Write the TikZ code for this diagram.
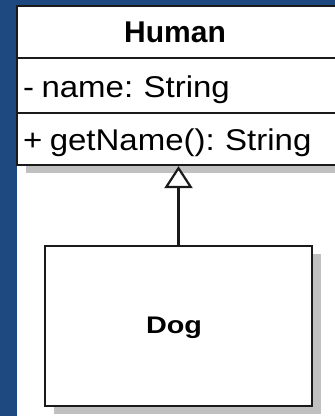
\documentclass[tikz,border=0pt]{standalone}
\usepackage{fontspec}
\setmainfont{Liberation Sans}
\newfontfamily\umlfont[FakeStretch=1.1,WordSpace=0.8]{Liberation Sans}
\newfontfamily\dogfont[FakeStretch=1.2]{Liberation Sans}
\usetikzlibrary{arrows.meta,shadows}
\definecolor{frameblue}{RGB}{30,73,128}
\definecolor{umlline}{RGB}{26,26,26}
\definecolor{umlshadow}{RGB}{192,192,192}
\begin{document}
\begin{tikzpicture}[x=1pt,y=-1pt,
  classbox/.style={draw=umlline, line width=2.2pt, fill=white, inner sep=0pt,
    drop shadow={shadow xshift=9pt, shadow yshift=-8pt, fill=umlshadow, opacity=1}},
  member/.style={inner sep=0pt, anchor=base west, font=\umlfont\fontsize{30}{30}\selectfont},
  classtitle/.style={inner sep=0pt, anchor=base, font=\bfseries\fontsize{30}{30}\selectfont},
  divider/.style={draw=umlline, line width=2.2pt},
  inherit/.style={draw=umlline, line width=2.2pt,
    -{Triangle[length=22pt, width=28pt, fill=white, line join=miter]}}]
  % canvas and frame
  \useasboundingbox (0,0) rectangle (335,416);
  \fill[frameblue] (0,0) rectangle (335,416);
  \fill[white] (17,5) rectangle (335,416);

  % class Human
  \node[classbox, minimum width=320pt, minimum height=159pt] (human) at (177,85.5) {};
  \coordinate (sepA) at (0,58);
  \coordinate (sepB) at (0,113);
  \draw[divider] (human.west |- sepA) -- (human.east |- sepA);
  \draw[divider] (human.west |- sepB) -- (human.east |- sepB);
  \node[classtitle] (humantitle) at (175,42) {Human};
  \node[member] (humanattr) at (23,97) {- name: String};
  \node[member] (humanop) at (23,150) {+ getName(): String};

  % class Dog
  \node[classbox, minimum width=267pt, minimum height=160pt] (dog) at (178.5,326) {};
  \node[inner sep=0pt, anchor=base, font=\dogfont\bfseries\fontsize{24}{24}\selectfont] (dogtitle) at (174,333.5) {Dog};

  % generalization
  \draw[inherit] (dog.north) -- (dog.north |- human.south);
\end{tikzpicture}
\end{document}
